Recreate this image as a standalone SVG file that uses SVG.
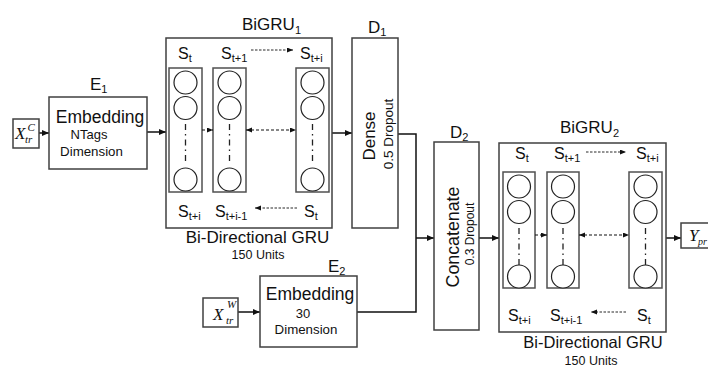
<svg xmlns="http://www.w3.org/2000/svg" width="708" height="367" viewBox="0 0 708 367">
<style>
  .box { fill: #fff; stroke: #404040; stroke-width: 1.5; }
  .col { fill: none; stroke: #505050; stroke-width: 1.5; }
  .cir { fill: #fff; stroke: #222; stroke-width: 1.2; }
  .dd { stroke: #222; stroke-width: 1.3; stroke-dasharray: 6 4 1.5 4; fill: none; }
  .ln { stroke: #111; stroke-width: 1.5; fill: none; }
  .dl { stroke: #111; stroke-width: 1.2; stroke-dasharray: 3 2; fill: none; }
  .dlt { stroke: #111; stroke-width: 0.9; stroke-dasharray: 2.5 1.5; fill: none; }
  text { font-family: "Liberation Sans", Arial, sans-serif; fill: #111; }
  .m { font-family: "Liberation Serif", "Times New Roman", serif; font-style: italic; }
</style>
<defs>
  <marker id="ah" markerUnits="userSpaceOnUse" markerWidth="8" markerHeight="8" refX="7" refY="3" orient="auto">
    <path d="M0,0 L7,3 L0,6 z" fill="#111"/>
  </marker>
  <marker id="ahs" markerUnits="userSpaceOnUse" markerWidth="7" markerHeight="7" refX="6" refY="2.5" orient="auto-start-reverse">
    <path d="M0,0 L6,2.5 L0,5 z" fill="#111"/>
  </marker>
</defs>

<g id="connectors">
  <line class="ln" x1="39" y1="133" x2="49" y2="133" marker-end="url(#ah)"/>
  <line class="ln" x1="147" y1="132" x2="166" y2="132" marker-end="url(#ah)"/>
  <line class="ln" x1="329" y1="133" x2="352" y2="133" marker-end="url(#ah)"/>
  <polyline class="ln" points="398,134 416,134 416,312 357,312"/>
  <line class="ln" x1="416" y1="238" x2="434" y2="238" marker-end="url(#ah)"/>
  <line class="ln" x1="238" y1="312" x2="260" y2="312" marker-end="url(#ah)"/>
  <line class="ln" x1="479" y1="238" x2="499" y2="238" marker-end="url(#ah)"/>
  <line class="ln" x1="662" y1="238" x2="681" y2="238" marker-end="url(#ah)"/>
</g>

<g id="x_c">
  <rect class="box" x="13" y="119" width="26" height="29"/>
  <text class="m" x="15" y="139" font-size="17">X</text>
  <text class="m" x="27.5" y="131" font-size="11">C</text>
  <text class="m" x="25" y="143" font-size="11">tr</text>
</g>

<g id="e1">
  <text x="90" y="90" font-size="17">E<tspan font-size="11" dy="3">1</tspan></text>
  <rect class="box" x="49" y="97" width="98" height="72"/>
  <text x="100" y="123" font-size="17.5" text-anchor="middle">Embedding</text>
  <text x="89" y="139" font-size="13" text-anchor="middle">NTags</text>
  <text x="91.5" y="156" font-size="13.3" text-anchor="middle">Dimension</text>
</g>

<g id="bigru1">
  <text x="242" y="30" font-size="17">BiGRU<tspan font-size="11" dy="4">1</tspan></text>
  <rect class="box" x="166" y="38" width="166" height="190"/>
  <text x="178" y="59" font-size="16">S<tspan font-size="11" dy="3">t</tspan></text>
  <text x="221" y="59" font-size="16">S<tspan font-size="11" dy="3">t+1</tspan></text>
  <text x="300" y="59" font-size="16">S<tspan font-size="11" dy="3">t+i</tspan></text>
  <line class="dlt" x1="251" y1="50" x2="293" y2="50" marker-end="url(#ahs)"/>
  <rect class="col" x="169" y="68" width="33" height="124"/>
  <rect class="col" x="213" y="68" width="33" height="124"/>
  <rect class="col" x="296" y="68" width="33" height="124"/>
  <circle class="cir" cx="185.5" cy="82.5" r="11.5"/>
  <circle class="cir" cx="185.5" cy="108" r="11.5"/>
  <circle class="cir" cx="185.5" cy="179.5" r="11.5"/>
  <circle class="cir" cx="229.5" cy="82.5" r="11.5"/>
  <circle class="cir" cx="229.5" cy="108" r="11.5"/>
  <circle class="cir" cx="229.5" cy="179.5" r="11.5"/>
  <circle class="cir" cx="312.5" cy="82.5" r="11.5"/>
  <circle class="cir" cx="312.5" cy="108" r="11.5"/>
  <circle class="cir" cx="312.5" cy="179.5" r="11.5"/>
  <line class="dd" x1="185.5" y1="124" x2="185.5" y2="164"/>
  <line class="dd" x1="229.5" y1="124" x2="229.5" y2="164"/>
  <line class="dd" x1="312.5" y1="124" x2="312.5" y2="164"/>
  <line class="dl" x1="202" y1="130" x2="213" y2="130" marker-end="url(#ahs)"/>
  <line class="dl" x1="246" y1="130" x2="296" y2="130" marker-start="url(#ahs)" marker-end="url(#ahs)"/>
  <text x="178" y="217" font-size="16">S<tspan font-size="11" dy="3">t+i</tspan></text>
  <text x="215" y="217" font-size="16">S<tspan font-size="11" dy="3">t+i-1</tspan></text>
  <text x="304" y="217" font-size="16">S<tspan font-size="11" dy="3">t</tspan></text>
  <line class="dlt" x1="297" y1="208" x2="255" y2="208" marker-end="url(#ahs)"/>
  <text x="257.5" y="243" font-size="17" text-anchor="middle">Bi-Directional GRU</text>
  <text x="258" y="259" font-size="12.5" text-anchor="middle">150 Units</text>
</g>

<g id="d1">
  <text x="368" y="33" font-size="17">D<tspan font-size="11" dy="3">1</tspan></text>
  <rect class="box" x="352" y="38" width="46" height="190"/>
  <text transform="translate(375,136) rotate(-90)" font-size="17" text-anchor="middle">Dense</text>
  <text transform="translate(393,134) rotate(-90)" font-size="13.5" text-anchor="middle">0.5 Dropout</text>
</g>

<g id="x_w">
  <rect class="box" x="203" y="298" width="35" height="29"/>
  <text class="m" x="213" y="320" font-size="17">X</text>
  <text class="m" x="227" y="308" font-size="11">W</text>
  <text class="m" x="226" y="324" font-size="11">tr</text>
</g>

<g id="e2">
  <text x="328" y="272" font-size="17">E<tspan font-size="11" dy="3">2</tspan></text>
  <rect class="box" x="260" y="276" width="97" height="71"/>
  <text x="310" y="300" font-size="17.5" text-anchor="middle">Embedding</text>
  <text x="303" y="318" font-size="13" text-anchor="middle">30</text>
  <text x="306" y="334" font-size="13.3" text-anchor="middle">Dimension</text>
</g>

<g id="d2">
  <text x="450" y="138" font-size="17">D<tspan font-size="11" dy="3">2</tspan></text>
  <rect class="box" x="434" y="142" width="45" height="188"/>
  <text transform="translate(459,237) rotate(-90)" font-size="17.8" text-anchor="middle">Concatenate</text>
  <text transform="translate(474,234) rotate(-90)" font-size="12" text-anchor="middle">0.3 Dropout</text>
</g>

<g id="bigru2">
  <text x="560" y="133" font-size="17">BiGRU<tspan font-size="11" dy="4">2</tspan></text>
  <rect class="box" x="499" y="143" width="167" height="189"/>
  <text x="515" y="159" font-size="16">S<tspan font-size="11" dy="3">t</tspan></text>
  <text x="554" y="159" font-size="16">S<tspan font-size="11" dy="3">t+1</tspan></text>
  <text x="636" y="159" font-size="16">S<tspan font-size="11" dy="3">t+i</tspan></text>
  <line class="dlt" x1="586" y1="152" x2="626" y2="152" marker-end="url(#ahs)"/>
  <rect class="col" x="503" y="172" width="32" height="116"/>
  <rect class="col" x="547" y="172" width="32" height="116"/>
  <rect class="col" x="629" y="172" width="33" height="116"/>
  <circle class="cir" cx="519" cy="186.5" r="11.5"/>
  <circle class="cir" cx="519" cy="212" r="11.5"/>
  <circle class="cir" cx="519" cy="276.5" r="11.5"/>
  <circle class="cir" cx="563" cy="186.5" r="11.5"/>
  <circle class="cir" cx="563" cy="212" r="11.5"/>
  <circle class="cir" cx="563" cy="276.5" r="11.5"/>
  <circle class="cir" cx="645.5" cy="186.5" r="11.5"/>
  <circle class="cir" cx="645.5" cy="212" r="11.5"/>
  <circle class="cir" cx="645.5" cy="276.5" r="11.5"/>
  <line class="dd" x1="519" y1="228" x2="519" y2="265"/>
  <line class="dd" x1="563" y1="228" x2="563" y2="265"/>
  <line class="dd" x1="645.5" y1="228" x2="645.5" y2="265"/>
  <line class="dl" x1="535" y1="235" x2="547" y2="235" marker-end="url(#ahs)"/>
  <line class="dl" x1="579" y1="235" x2="629" y2="235" marker-start="url(#ahs)" marker-end="url(#ahs)"/>
  <text x="508" y="321" font-size="16">S<tspan font-size="11" dy="3">t+i</tspan></text>
  <text x="550" y="321" font-size="16">S<tspan font-size="11" dy="3">t+i-1</tspan></text>
  <text x="637" y="321" font-size="16">S<tspan font-size="11" dy="3">t</tspan></text>
  <line class="dlt" x1="626" y1="312" x2="591" y2="312" marker-end="url(#ahs)"/>
  <text x="593" y="348" font-size="16.5" text-anchor="middle">Bi-Directional GRU</text>
  <text x="591" y="365" font-size="12.5" text-anchor="middle">150 Units</text>
</g>

<g id="y_pred">
  <rect class="box" x="681" y="223" width="40" height="25"/>
  <text class="m" x="689" y="241" font-size="17">Y</text>
  <text class="m" x="698" y="245" font-size="10">pr</text>
</g>
</svg>
